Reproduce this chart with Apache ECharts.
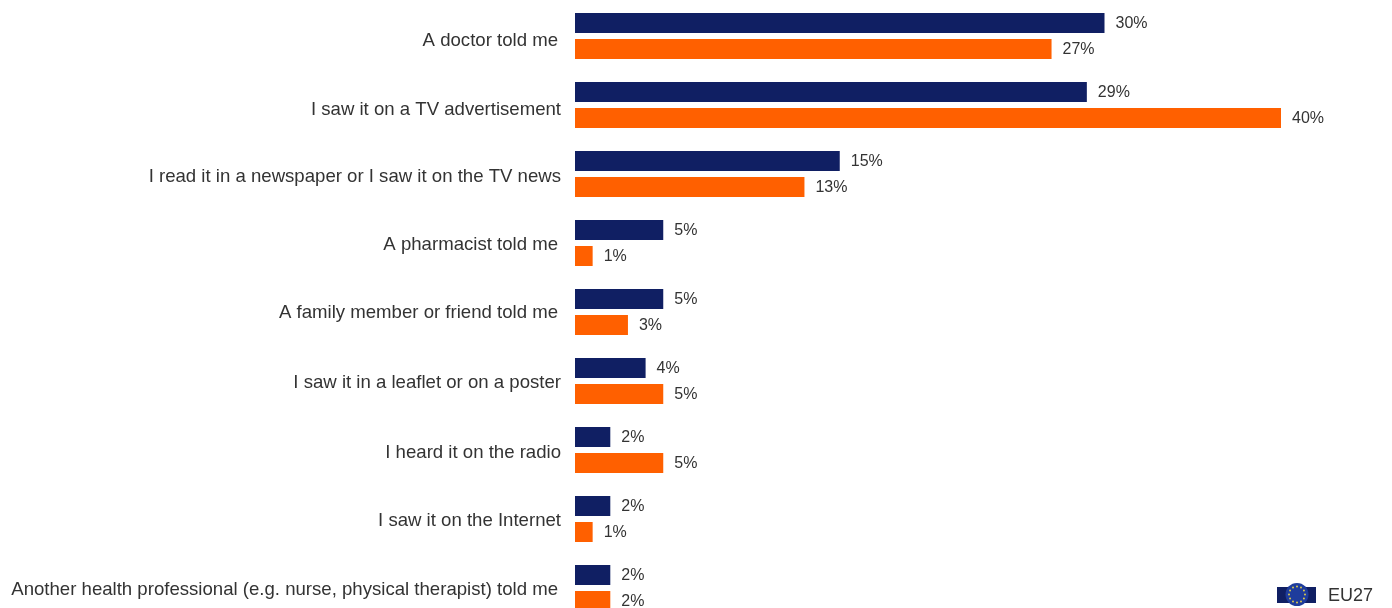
<!DOCTYPE html>
<html><head><meta charset="utf-8">
<style>html,body{margin:0;padding:0;background:#fff;overflow:hidden}#c{width:1392px;height:608px}</style>
<script src="https://cdn.jsdelivr.net/npm/echarts@6/dist/echarts.min.js"></script>
</head><body><div id="c"></div>
<script>
const categories = ["A doctor told me","I saw it on a TV advertisement","I read it in a newspaper or I saw it on the TV news","A pharmacist told me","A family member or friend told me","I saw it in a leaflet or on a poster","I heard it on the radio","I saw it on the Internet","Another health professional (e.g. nurse, physical therapist) told me"];
const seriesA = [30,29,15,5,5,4,2,2,2];
const seriesB = [27,40,13,1,3,5,5,1,2];
const legendLabel = "EU27";
const navy = "#101F63", orange = "#FF6000", ink = "#333333";
// Small hand-set label nudges: the reference's labels are not perfectly aligned.
const nudgeRight = [3,0,0,3,3,0,0,0,3];
const nudgeDown = [5,5,3,2,1,2,3,2,2];
const labelStyle = {show:true,position:"right",distance:11,offset:[0,1],formatter:p=>p.value+"%",color:ink,fontFamily:"Liberation Sans",fontSize:16};
const rich = {};
categories.forEach((c,i)=>{
  rich["l"+i]={color:ink,fontFamily:"Liberation Sans",fontSize:18.6,
    padding:[2*nudgeDown[i],nudgeRight[i],0,0]};
});
const chart = echarts.init(document.getElementById("c"),null,{renderer:"canvas"});
const cx=1297, cy=594.5, starR=8;
const stars=[];
for(let i=0;i<12;i++){const a=i*Math.PI/6;stars.push({type:"circle",shape:{cx:cx+starR*Math.cos(a),cy:cy+starR*Math.sin(a),r:1},style:{fill:"#D8C850"}});}
chart.setOption({
  animation:false,
  backgroundColor:"#fff",
  grid:{left:575,top:1.5,width:706,height:621,outerBoundsMode:"none"},
  xAxis:{type:"value",min:0,max:40,show:false},
  yAxis:{type:"category",inverse:true,data:categories,axisLine:{show:false},axisTick:{show:false},
    axisLabel:{margin:14,interval:0,rich,
      formatter:(v,i)=>"{l"+i+"|"+v+"}"}},
  series:[
    {name:"EU27",type:"bar",data:seriesA,barWidth:20,barGap:"30%",itemStyle:{color:navy},label:labelStyle},
    {name:"Comparison",type:"bar",data:seriesB,barWidth:20,itemStyle:{color:orange},label:labelStyle}
  ],
  graphic:[
    {type:"rect",shape:{x:1277,y:587,width:39,height:16},style:{fill:navy}},
    {type:"circle",shape:{cx:cx,cy:cy,r:11.5},style:{fill:"#1E3C9C"}},
    ...stars,
    {type:"text",x:1328,y:587,style:{text:legendLabel,fill:ink,font:'18px "Liberation Sans"'}}
  ]
});
</script></body></html>
